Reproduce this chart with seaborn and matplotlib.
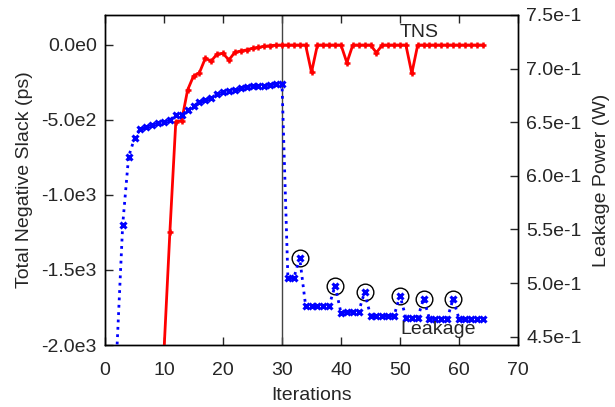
import matplotlib
matplotlib.use("Agg")
from matplotlib import pyplot as plt
from matplotlib.ticker import FuncFormatter
import numpy as np
import pandas as pd
import seaborn as sns

# TNS (ps) per iteration, left axis
tns_iter = list(range(10, 65))
tns_vals = [-2040, -1245, -511, -504, -300, -207, -185, -89, -107, -60,
            -56, -100, -49, -40, -33, -22, -16, -9, -4, -1,
            0, 0, 0, 0, 0, -182, 0, 0, 0, 0,
            0, -118, 0, 0, 0, 0, -51, 0, 0, 0,
            0, 0, -189, 0, 0, 0, 0, 0, 0, 0,
            0, 0, 0, 0, 0]

# Leakage power (W) per iteration, right axis
leak_iter = list(range(2, 65))
leak_vals = [0.436, 0.5545, 0.618, 0.635, 0.6436, 0.6455, 0.6473, 0.6492, 0.6504,
             0.652, 0.657, 0.657, 0.661, 0.665, 0.669, 0.671, 0.673, 0.676, 0.678,
             0.679, 0.680, 0.682, 0.683, 0.684, 0.684, 0.684, 0.685, 0.686, 0.686,
             0.5048, 0.5048, 0.5235,
             0.479, 0.479, 0.479, 0.479, 0.479, 0.4977,
             0.4721, 0.4735, 0.4735, 0.4735, 0.4916,
             0.4697, 0.4697, 0.4697, 0.4697, 0.4697, 0.4884,
             0.4676, 0.4676, 0.4676, 0.4856,
             0.4667, 0.4667, 0.4667, 0.4667, 0.4853,
             0.4667, 0.4667, 0.4667, 0.4667, 0.4667]

# iterations whose leakage point is circled
circled = [33, 39, 44, 50, 54, 59]

x_ticks = [0, 10, 20, 30, 40, 50, 60, 70]
tns_ticks = [0, -500, -1000, -1500, -2000]
leak_ticks = [0.45, 0.50, 0.55, 0.60, 0.65, 0.70, 0.75]

sns.set_style("ticks")
plt.rcParams['font.family'] = ['Liberation Sans', 'DejaVu Sans']
plt.rcParams['font.size'] = 14


def sci_fmt(v, pos=None):
    s = f"{v:.1e}"
    m, e = s.split('e')
    return f"{m}e{int(e)}"


tns_df = pd.DataFrame({'Iterations': tns_iter, 'TNS': tns_vals})
leak_df = pd.DataFrame({'Iterations': leak_iter, 'Leakage': leak_vals})
circ_df = leak_df[leak_df['Iterations'].isin(circled)]

fig = plt.figure(figsize=(6.15, 4.07), dpi=100)
ax = fig.add_axes([105 / 615, 62 / 407, 413 / 615, 330 / 407])
ax2 = ax.twinx()

ax.axvline(30, color='#444444', lw=1, zorder=1)

sns.lineplot(data=tns_df, x='Iterations', y='TNS', ax=ax, color='#ff0000',
             lw=2, marker='+', markersize=5, markeredgewidth=1.8,
             markeredgecolor='#ff0000', zorder=3)

sns.lineplot(data=leak_df, x='Iterations', y='Leakage', ax=ax2, color='#0000ff',
             lw=2, linestyle=':', marker='x', markersize=5, markeredgewidth=2.2,
             markeredgecolor='#0000ff', zorder=3)
ax2.plot(circ_df['Iterations'], circ_df['Leakage'], 'o', ms=12,
         mfc='none', mec='black', mew=1)

ax.set_xlim(0, 70)
ax.set_ylim(-2000, 200)
ax2.set_ylim(0.4423, 0.75)

ax.set_xticks(x_ticks)
ax.set_yticks(tns_ticks)
ax2.set_yticks(leak_ticks)
ax.yaxis.set_major_formatter(FuncFormatter(sci_fmt))
ax2.yaxis.set_major_formatter(FuncFormatter(sci_fmt))

ax.tick_params(axis='x', direction='in', top=True, length=6, width=1, labelsize=14, pad=12)
ax.tick_params(axis='y', direction='in', right=False, length=6, width=1, labelsize=14, pad=6)
ax2.tick_params(axis='y', direction='in', length=6, width=1, labelsize=14, pad=6)

for a in (ax, ax2):
    for sp in a.spines.values():
        sp.set_visible(True)
        sp.set_color('black')
        sp.set_linewidth(1)

ax.set_xlabel('Iterations', fontsize=14, labelpad=6)
ax.set_ylabel('Total Negative Slack (ps)', fontsize=14, labelpad=6)
ax2.set_ylabel('Leakage Power (W)', fontsize=14, labelpad=8)

ax.text(50, 80, 'TNS', fontsize=14, ha='left', va='center')
ax2.text(50, 0.4567, 'Leakage', fontsize=14, ha='left', va='center')

fig.savefig('out.png', dpi=100)
